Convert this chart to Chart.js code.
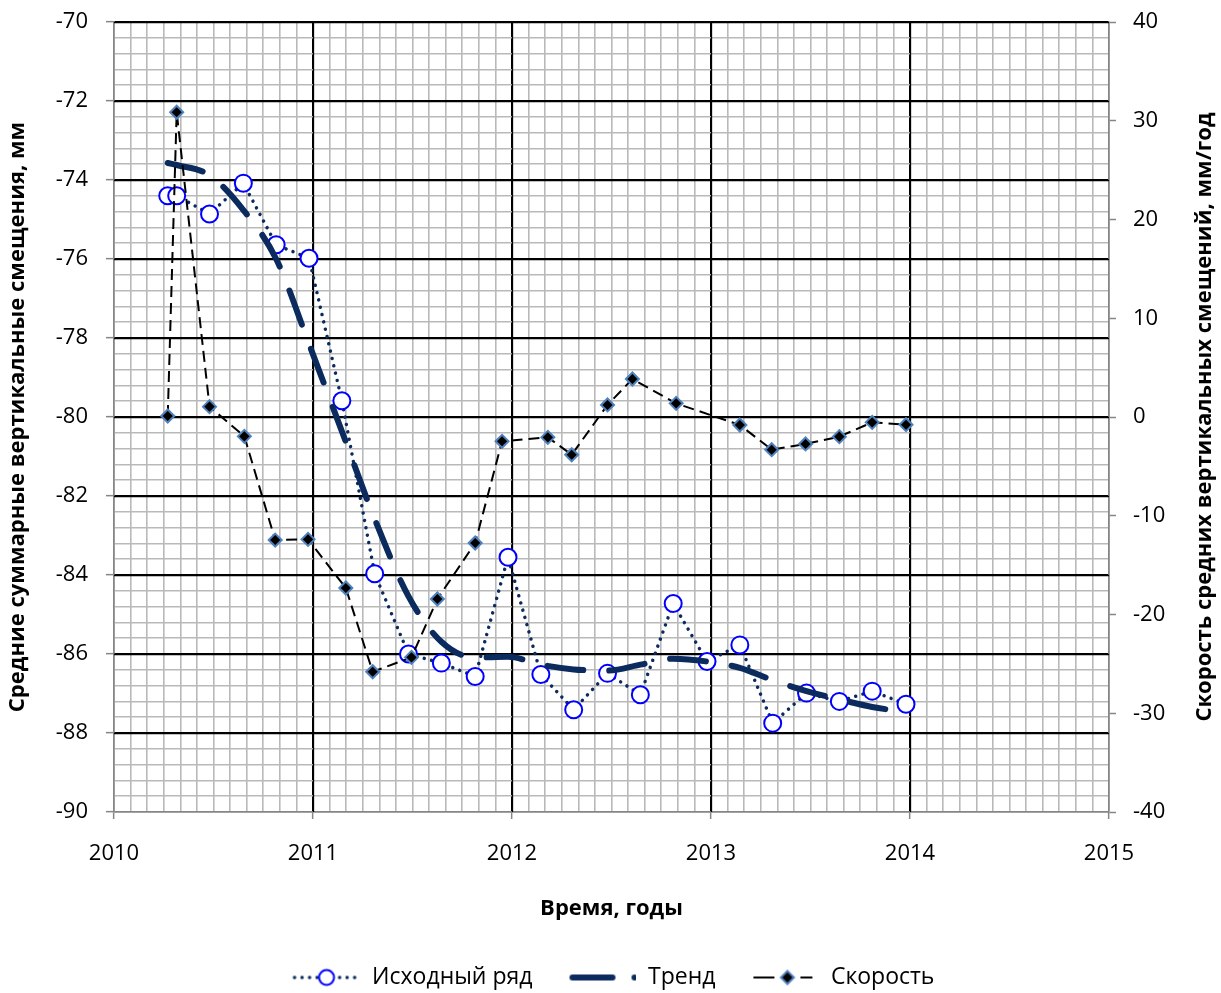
<!DOCTYPE html>
<html>
<head>
<meta charset="utf-8">
<script src="https://cdn.jsdelivr.net/npm/chart.js@4.4.1/dist/chart.umd.min.js"></script>
<style>
  html, body { margin: 0; padding: 0; background: #fff; }
  #wrap { width: 1221px; height: 993px; }
</style>
</head>
<body>
<div id="wrap"><canvas id="chart"></canvas></div>
<script>
'use strict'

// Исходный ряд (left axis, mm)
const origX = [2010.27, 2010.315, 2010.48, 2010.65, 2010.815, 2010.98, 2011.145, 2011.31,
  2011.48, 2011.645, 2011.815, 2011.98, 2012.145, 2012.31, 2012.48, 2012.645, 2012.81,
  2012.98, 2013.145, 2013.31, 2013.48, 2013.645, 2013.81, 2013.98]
const origY = [-74.40, -74.40, -74.86, -74.08, -75.64, -75.98, -79.59, -83.97,
  -86.00, -86.23, -86.57, -83.55, -86.52, -87.41, -86.49, -87.03, -84.72,
  -86.19, -85.77, -87.75, -86.99, -87.20, -86.94, -87.27]

// Тренд (left axis, mm)
const trendY = [-73.57, -73.62, -73.88, -74.76, -76.00, -78.15, -80.36, -82.58,
  -84.54, -85.69, -86.09, -86.07, -86.27, -86.39, -86.42, -86.27, -86.12,
  -86.19, -86.35, -86.66, -86.94, -87.15, -87.34, -87.47]

// Скорость (right axis, mm/year)
const speedX = [2010.27, 2010.315, 2010.48, 2010.655, 2010.81, 2010.975, 2011.165, 2011.30,
  2011.495, 2011.625, 2011.815, 2011.95, 2012.18, 2012.30, 2012.48, 2012.605, 2012.825,
  2013.145, 2013.305, 2013.475, 2013.645, 2013.81, 2013.98]
const speedY = [0.1, 30.86, 1.05, -1.96, -12.46, -12.39, -17.32, -25.8,
  -24.34, -18.43, -12.76, -2.46, -2.06, -3.82, 1.22, 3.85, 1.38,
  -0.81, -3.31, -2.73, -1.99, -0.54, -0.78]

// axis ticks
const xMajor = [2010, 2011, 2012, 2013, 2014, 2015]
const yMajor = [-90, -88, -86, -84, -82, -80, -78, -76, -74, -72, -70]
const xMinorPerMajor = 12 // monthly grid
const yMinorPerMajor = 5

const rightTitle = 'Скорость средних вертикальных смещений, мм/год'

const minorTicks = (majors, n) => {
  const out = []
  for (let i = 0; i < majors.length - 1; i++)
    for (let j = 0; j < n; j++)
      out.push(majors[i] + (majors[i + 1] - majors[i]) * j / n)
  out.push(majors[majors.length - 1])
  return out
}
const xTicks = minorTicks(xMajor, xMinorPerMajor)
const yTicks = minorTicks(yMajor, yMinorPerMajor)

const isMajor = (v, list) => list.some(m => Math.abs(m - v) < 1e-6)

const NAVY = '#0b2a5e'
const MINOR = '#b9b9b9'
const AXIS = '#868686'
const FONT = "'Open Sans', sans-serif"

Chart.defaults.font.family = FONT
Chart.defaults.color = '#000'

// legend symbols: line sample with marker
function legendIcon(draw) {
  const c = document.createElement('canvas')
  c.width = 94
  c.height = 24
  const g = c.getContext('2d')
  g.lineCap = 'round'
  draw(g)
  return c
}

const icons = [
  legendIcon(g => {
    g.strokeStyle = NAVY
    g.lineWidth = 3.5
    g.setLineDash([0.01, 7.5])
    g.beginPath(); g.moveTo(28, 12); g.lineTo(92, 12); g.stroke()
    g.setLineDash([])
    g.fillStyle = '#fff'
    g.strokeStyle = '#0000ff'
    g.lineWidth = 2
    g.beginPath(); g.arc(60, 12, 7.5, 0, Math.PI * 2); g.fill(); g.stroke()
  }),
  legendIcon(g => {
    g.strokeStyle = NAVY
    g.fillStyle = NAVY
    g.lineWidth = 6
    g.beginPath(); g.moveTo(30, 12); g.lineTo(70, 12); g.stroke()
    g.beginPath(); g.arc(92, 12, 3, 0, Math.PI * 2); g.fill()
  }),
  legendIcon(g => {
    g.strokeStyle = '#000'
    g.lineWidth = 2
    g.lineCap = 'butt'
    g.beginPath(); g.moveTo(28, 12); g.lineTo(49, 12); g.moveTo(75, 12); g.lineTo(87, 12); g.stroke()
    g.fillStyle = '#000'
    g.strokeStyle = '#4f81bd'
    g.beginPath()
    g.moveTo(62, 5.5); g.lineTo(68.5, 12); g.lineTo(62, 18.5); g.lineTo(55.5, 12); g.closePath()
    g.fill(); g.stroke()
  })
]

// keep black major lines above the grey minor grid
const majorGrid = {
  id: 'majorGrid',
  beforeDatasetsDraw(chart) {
    const { ctx, chartArea: a, scales: { x, y } } = chart
    ctx.save()
    ctx.strokeStyle = '#000'
    ctx.lineWidth = 1.3
    ctx.beginPath()
    xMajor.slice(1, -1).forEach(v => {
      const px = Math.round(x.getPixelForValue(v)) + 0.5
      ctx.moveTo(px, a.top)
      ctx.lineTo(px, a.bottom)
    })
    yMajor.slice(1).forEach(v => {
      const py = Math.round(y.getPixelForValue(v)) + 0.5
      ctx.moveTo(a.left, py)
      ctx.lineTo(a.right, py)
    })
    ctx.stroke()
    ctx.restore()
  }
}

// right axis title reads bottom-to-top, like the left one
const rightAxisTitle = {
  id: 'rightAxisTitle',
  afterDraw(chart) {
    const { ctx, chartArea: a } = chart
    ctx.save()
    ctx.translate(chart.width - 16, (a.top + a.bottom) / 2)
    ctx.rotate(-Math.PI / 2)
    ctx.font = 'bold 22px ' + FONT
    ctx.fillStyle = '#000'
    ctx.textAlign = 'center'
    ctx.textBaseline = 'middle'
    ctx.fillText(rightTitle, 0, 0)
    ctx.restore()
  }
}

// vertical scales: drop the automatic label padding so the layout padding decides the top
const fitVertical = width => s => {
  s.width = width
  s.paddingTop = 0
  s.paddingBottom = 0
}

const ctx = document.getElementById('chart').getContext('2d')

new Chart(ctx, {
  type: 'line',
  data: {
    datasets: [
      {
        label: 'Исходный ряд',
        data: origX.map((x, i) => ({ x, y: origY[i] })),
        yAxisID: 'y',
        order: 2,
        borderColor: NAVY,
        borderWidth: 3.5,
        borderDash: [0.01, 7.5],
        borderCapStyle: 'round',
        pointRadius: 8.5,
        pointBackgroundColor: '#fff',
        pointBorderColor: '#0000ff',
        pointBorderWidth: 2,
        tension: 0
      },
      {
        label: 'Тренд',
        data: origX.map((x, i) => ({ x, y: trendY[i] })),
        yAxisID: 'y',
        order: 1,
        borderColor: NAVY,
        borderWidth: 6,
        borderDash: [36, 26],
        borderCapStyle: 'round',
        pointRadius: 0,
        cubicInterpolationMode: 'monotone'
      },
      {
        label: 'Скорость',
        data: speedX.map((x, i) => ({ x, y: speedY[i] })),
        yAxisID: 'y1',
        order: 0,
        borderColor: '#000',
        borderWidth: 2,
        borderDash: [11, 6],
        pointStyle: 'rectRot',
        pointRadius: 6.5,
        pointBackgroundColor: '#000',
        pointBorderColor: '#4f81bd',
        pointBorderWidth: 2,
        tension: 0
      }
    ]
  },
  options: {
    responsive: true,
    maintainAspectRatio: false,
    animation: false,
    layout: { padding: { top: 22, left: 0, right: 20, bottom: -6 } },
    scales: {
      x: {
        type: 'linear',
        min: 2010,
        max: 2015,
        afterBuildTicks: s => { s.ticks = xTicks.map(value => ({ value })) },
        afterFit: s => { s.height = 144 },
        ticks: {
          autoSkip: false,
          maxRotation: 0,
          padding: 22,
          font: { size: 22 },
          callback: v => isMajor(v, xMajor) ? String(Math.round(v)) : ''
        },
        grid: {
          color: c => isMajor(c.tick.value, xMajor) ? '#000' : MINOR,
          lineWidth: c => isMajor(c.tick.value, xMajor) ? 1.3 : 1.6,
          tickLength: 7,
          tickColor: c => isMajor(c.tick.value, xMajor) ? AXIS : 'rgba(0,0,0,0)',
          tickWidth: 1.5
        },
        border: { color: AXIS, width: 1.5 },
        title: {
          display: true,
          text: 'Время, годы',
          font: { size: 22, weight: 'bold' },
          padding: { top: 0, bottom: 34 }
        }
      },
      y: {
        type: 'linear',
        position: 'left',
        min: -90,
        max: -70,
        afterBuildTicks: s => { s.ticks = yTicks.map(value => ({ value })) },
        afterFit: fitVertical(114),
        ticks: {
          autoSkip: false,
          padding: 18,
          font: { size: 22 },
          callback: v => isMajor(v, yMajor) ? String(Math.round(v)) : ''
        },
        grid: {
          color: c => isMajor(c.tick.value, yMajor) ? '#000' : MINOR,
          lineWidth: c => isMajor(c.tick.value, yMajor) ? 1.3 : 1.6,
          tickLength: 8,
          tickColor: c => isMajor(c.tick.value, yMajor) ? AXIS : 'rgba(0,0,0,0)',
          tickWidth: 1.5
        },
        border: { color: AXIS, width: 1.5 },
        title: {
          display: true,
          text: 'Средние суммарные вертикальные смещения, мм',
          font: { size: 22, weight: 'bold' },
          padding: { top: 5, bottom: 0 }
        }
      },
      y1: {
        type: 'linear',
        position: 'right',
        min: -40,
        max: 40,
        afterFit: fitVertical(92),
        ticks: { stepSize: 10, padding: 17, font: { size: 22 } },
        grid: {
          drawOnChartArea: false,
          tickLength: 7,
          tickColor: AXIS,
          tickWidth: 1.5
        },
        border: { color: AXIS, width: 1.5 }
      }
    },
    plugins: {
      legend: {
        position: 'bottom',
        labels: {
          usePointStyle: true,
          pointStyleWidth: 94,
          padding: 10,
          color: '#000',
          font: { size: 23 },
          sort: (a, b) => a.datasetIndex - b.datasetIndex,
          generateLabels: chart => {
            const items = Chart.defaults.plugins.legend.labels.generateLabels(chart)
            items.forEach(it => { it.pointStyle = icons[it.datasetIndex]; it.rotation = 0 })
            return items
          }
        }
      },
      tooltip: { enabled: false }
    }
  },
  plugins: [majorGrid, rightAxisTitle]
})
</script>
</body>
</html>
